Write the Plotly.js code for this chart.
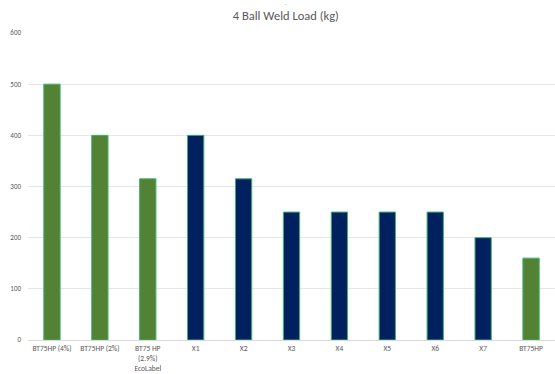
<!DOCTYPE html>
<html>
<head>
<meta charset="utf-8">
<script src="https://cdn.plot.ly/plotly-3.0.1.min.js"></script>
<style>html,body{margin:0;padding:0;background:#fff}#chart{width:555px;height:374px}</style>
</head>
<body>
<div id="chart"></div>
<script>
const categories = ["BT75HP (4%)", "BT75HP (2%)", "BT75 HP<br>(2.9%)<br>EcoLabel", "X1", "X2", "X3", "X4", "X5", "X6", "X7", "BT75HP"];
const weldLoad = [500, 400, 315, 400, 315, 250, 250, 250, 250, 200, 160];
const barColors = ["#548235", "#548235", "#548235", "#002060", "#002060", "#002060", "#002060", "#002060", "#002060", "#002060", "#548235"];
const yTicks = [0, 100, 200, 300, 400, 500, 600];

Plotly.newPlot("chart", [{
  type: "bar",
  x: categories,
  y: weldLoad,
  marker: {color: barColors, line: {color: "#3CB371", width: 1}},
  hoverinfo: "x+y"
}], {
  width: 555, height: 374,
  margin: {l: 28, r: 0, t: 33, b: 34},
  paper_bgcolor: "#fff", plot_bgcolor: "#fff",
  bargap: 0.66,
  showlegend: false,
  title: {text: "4 Ball Weld Load (kg)", x: 0.515, xanchor: "center", y: 0.957, yanchor: "middle",
          font: {family: "Carlito, Calibri, 'Open Sans', sans-serif", size: 12.5, color: "#595959"}},
  annotations: [{text: "-", xref: "paper", yref: "paper", x: 0.489, y: 1.094, xanchor: "center", yanchor: "middle", showarrow: false,
                 font: {family: "Carlito, 'Open Sans', sans-serif", size: 5, color: "#6f6f6f"}}],
  font: {family: "Carlito, Calibri, 'Open Sans', sans-serif", size: 7.5, color: "#595959"},
  xaxis: {type: "category", tickfont: {size: 7.5, color: "#595959"}, showline: true, linecolor: "#d9d9d9", linewidth: 1, ticks: "", ticklabelstandoff: 1, fixedrange: true},
  yaxis: {range: [0, 600], tickvals: yTicks, tickfont: {size: 7, color: "#595959"}, gridcolor: "#e6e6e6", gridwidth: 1, zeroline: false, ticks: "", ticklabelstandoff: 6, fixedrange: true}
}, {displayModeBar: false, staticPlot: true});
</script>
</body>
</html>
